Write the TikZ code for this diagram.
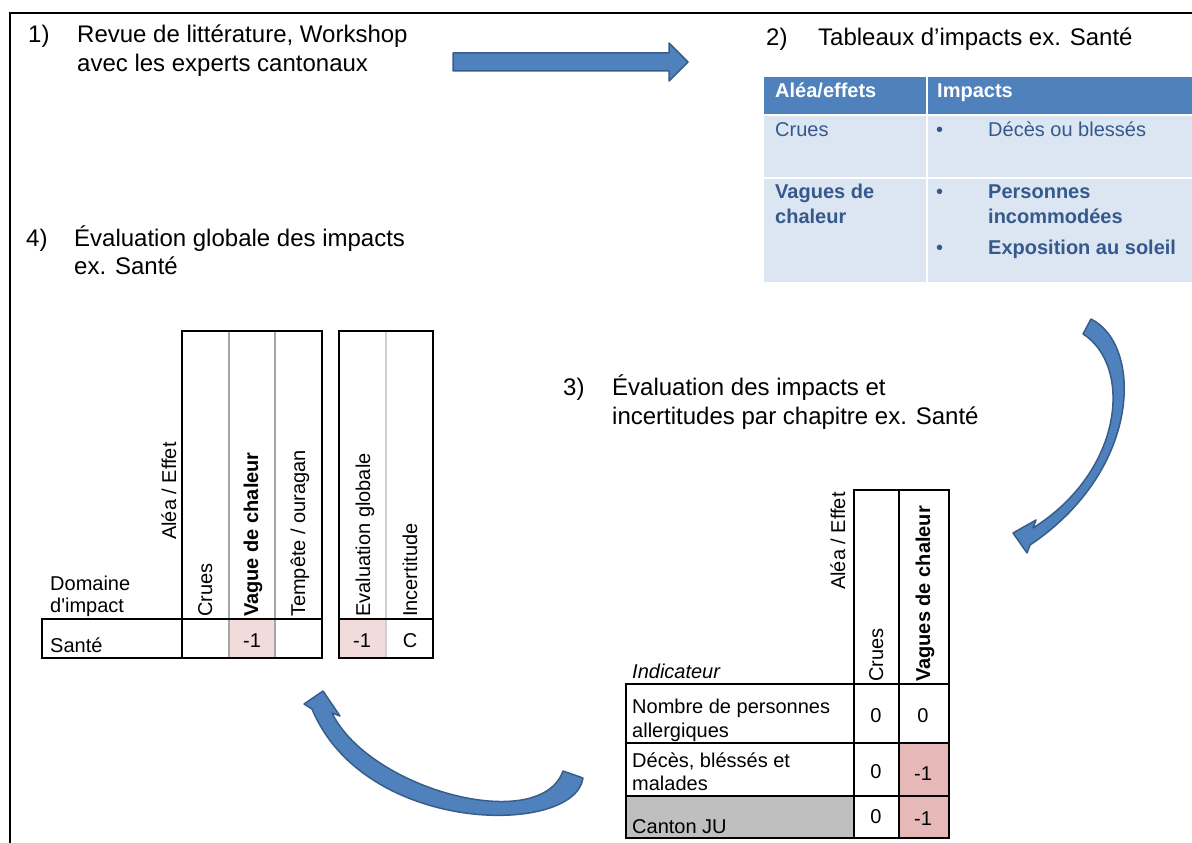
\documentclass[tikz,border=0pt]{standalone}
\usepackage{fontspec}
\setmainfont{Liberation Sans}
\newfontfamily\plainfont{Liberation Sans}
\definecolor{accblue}{HTML}{4F81BD}
\definecolor{accdark}{HTML}{385D8A}
\definecolor{lightblue}{HTML}{DCE6F2}
\definecolor{tabtext}{HTML}{35598C}
\definecolor{pinkA}{HTML}{F2DCDB}
\definecolor{pinkB}{HTML}{E6B9B8}
\definecolor{grayC}{HTML}{BFBFBF}
\definecolor{divA}{HTML}{A6A6A6}
\definecolor{divB}{HTML}{D0D0D0}
\begin{document}
\begin{tikzpicture}[x=1pt,y=-1pt,
  hd/.style={font=\fontsize{24}{29}\selectfont, anchor=base west, inner sep=0pt},
  tx/.style={font=\fontsize{20}{24}\selectfont, anchor=base west, inner sep=0pt},
  num/.style={font=\fontsize{20}{24}\selectfont, anchor=base, inner sep=0pt},
  vt/.style={font=\fontsize{20}{24}\selectfont, anchor=base west, inner sep=0pt, rotate=90},
  bt/.style={tx, text=tabtext},
  blockarrow/.style={fill=accblue, draw=accdark, line width=1.5pt, line join=round},
  tline/.style={line width=1.5pt, black},
]
\useasboundingbox (0,0) rectangle (1192,843);
% frame
\draw[line width=2pt] (1192,13) -- (10,13) -- (10,843);

% headings
\node[hd] (n1) at (28,43) {1)};
\node[hd] (h1a) at (77,43) {Revue de littérature, Workshop};
\node[hd] (h1b) at (77,72) {avec les experts cantonaux};
\node[hd] (n2) at (766,46) {2)};
\node[hd] (h2a) at (818,46) {Tableaux d’impacts ex. Santé};
\node[hd] (n4) at (26,246) {4)};
\node[hd] (h4a) at (74,246) {Évaluation globale des impacts};
\node[hd] (h4b) at (74,274) {ex. Santé};
\node[hd] (n3) at (563,395) {3)};
\node[hd] (h3a) at (612,395) {Évaluation des impacts et};
\node[hd] (h3b) at (612,424) {incertitudes par chapitre ex. Santé};

% straight block arrow
\draw[blockarrow] (453,53) -- (669,53) -- (669,43) -- (688,62) -- (669,81) -- (669,71) -- (453,71) -- cycle;

% table 2
\fill[accblue] (764,77) rectangle (1192,115);
\fill[lightblue] (764,115) rectangle (1192,282);
\draw[white, line width=2pt] (764,115) -- (1192,115) (764,178) -- (1192,178) (927,77) -- (927,282);
\node[tx, text=white, font=\fontsize{20}{24}\selectfont\bfseries] (t2h1) at (775,97) {Aléa/effets};
\node[tx, text=white, font=\fontsize{20}{24}\selectfont\bfseries] (t2h2) at (937,97) {Impacts};
\node[bt] (t2c1) at (775,136) {Crues};
\node[bt] (t2b1) at (936,136) {•};
\node[bt] (t2i1) at (988,136) {Décès ou blessés};
\node[bt, font=\fontsize{20}{24}\selectfont\bfseries] (t2c2a) at (775,198) {Vagues de};
\node[bt, font=\fontsize{20}{24}\selectfont\bfseries] (t2c2b) at (775,223) {chaleur};
\node[bt] (t2b2) at (936,198) {•};
\node[bt, font=\fontsize{20}{24}\selectfont\bfseries] (t2i2a) at (988,198) {Personnes};
\node[bt, font=\fontsize{20}{24}\selectfont\bfseries] (t2i2b) at (988,223) {incommodées};
\node[bt] (t2b3) at (936,254) {•};
\node[bt, font=\fontsize{20}{24}\selectfont\bfseries] (t2i3) at (988,254) {Exposition au soleil};

% table 4
\fill[pinkA] (229,620) rectangle (275,658);
\fill[pinkA] (339,620) rectangle (386,658);
\draw[divA, line width=1.5pt] (229,331) -- (229,658) (275,331) -- (275,658);
\draw[divB, line width=1.5pt] (386,331) -- (386,658);
\draw[tline] (182,658) -- (182,331) -- (322,331) -- (322,658);
\draw[tline] (42,619) rectangle (322,658);
\draw[tline] (339,331) rectangle (433,658);
\draw[tline] (339,619) -- (433,619);
\node[vt] (t4ae) at (176,540) {Aléa / Effet};
\node[vt] (t4cr) at (212,617) {Crues};
\node[vt, font=\fontsize{20}{24}\selectfont\bfseries] (t4vc) at (258,617) {Vague de chaleur};
\node[vt] (t4to) at (305,617) {Tempête / ouragan};
\node[vt] (t4eg) at (370,617) {Evaluation  globale};
\node[vt] (t4in) at (417,617) {Incertitude};
\node[tx] (t4d1) at (50,590) {Domaine};
\node[tx, font=\fontsize{20}{24}\plainfont] (t4d2) at (50,612) {d'impact};
\node[tx] (t4s) at (50,652) {Santé};
\node[num] (t4v1) at (252,647) {-1};
\node[num] (t4v2) at (362,647) {-1};
\node[num] (t4v3) at (410,647) {C};

% table 3
\fill[grayC] (626,796) rectangle (854,838);
\fill[pinkB] (899,743) rectangle (949,838);
\draw[tline] (626,684) rectangle (949,838);
\draw[tline] (626,743) -- (949,743) (626,796) -- (949,796);
\draw[tline] (854,838) -- (854,490) -- (949,490) -- (949,684);
\draw[tline] (899,490) -- (899,838);
\node[vt] (t3ae) at (845,590) {Aléa / Effet};
\node[vt] (t3cr) at (883,682) {Crues};
\node[vt, font=\fontsize{20}{24}\selectfont\bfseries] (t3vc) at (930,682) {Vagues de chaleur};
\node[tx, font=\fontsize{20}{24}\selectfont\itshape] (t3ind) at (632,678) {Indicateur};
\node[tx] (t3r1a) at (632,713) {Nombre de personnes};
\node[tx] (t3r1b) at (632,737) {allergiques};
\node[tx] (t3r2a) at (632,767) {Décès, bléssés et};
\node[tx] (t3r2b) at (632,790) {malades};
\node[tx] (t3r3) at (632,833) {Canton JU};
\node[num] (t3v11) at (876,722) {0};
\node[num] (t3v12) at (923,722) {0};
\node[num] (t3v21) at (876,778) {0};
\node[num] (t3v22) at (923,780) {-1};
\node[num] (t3v31) at (876,823) {0};
\node[num] (t3v32) at (923,825) {-1};

% curved arrow right (2 -> 3)
\draw[blockarrow] (1091,319) .. controls (1143,345) and (1142,470) .. (1030,545)
  -- (1027,553) -- (1013,533) -- (1036,520) -- (1033,528)
  .. controls (1125,470) and (1132,365) .. (1083,334) -- cycle;

% curved arrow bottom (3 -> 4)
\draw[blockarrow] (563,771) -- (583,778)
  .. controls (575,836) and (365,836) .. (312,709)
  -- (304,704) -- (323,691) -- (340,716) -- (332,713)
  .. controls (370,790) and (540,835) .. (563,771) -- cycle;
\end{tikzpicture}
\end{document}
